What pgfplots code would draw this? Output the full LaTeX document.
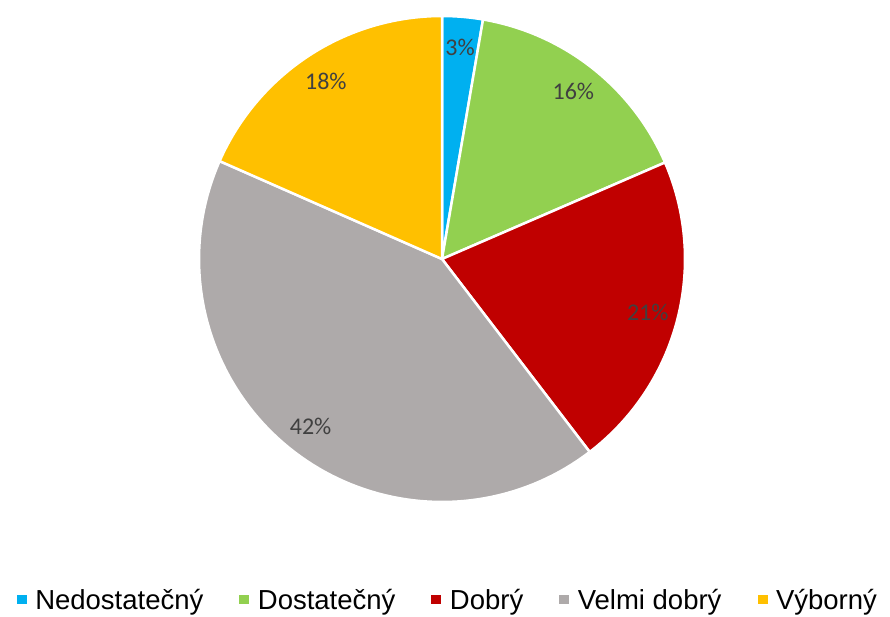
\documentclass[border=0pt]{standalone}
\usepackage{fontspec}
\setmainfont{Carlito}
\newfontfamily\legfont{Liberation Sans}
\usepackage{pgfplots}
\usepackage{pgfplotstable}
\pgfplotsset{compat=1.18}

\definecolor{cNed}{HTML}{00B0F0}
\definecolor{cDos}{HTML}{92D050}
\definecolor{cDob}{HTML}{C00000}
\definecolor{cVel}{HTML}{AEAAAA}
\definecolor{cVyb}{HTML}{FFC000}
\definecolor{lblgray}{HTML}{404040}
\tikzset{lbl/.style={font=\fontsize{24}{26}\selectfont, text=lblgray}}

% share of each grade in percent, clockwise from 12 o'clock
\pgfplotstableread[col sep=comma]{
grade,share,col
Nedostatečný,2.7,cNed
Dostatečný,15.8,cDos
Dobrý,21.1,cDob
Velmi dobrý,42.0,cVel
Výborný,18.4,cVyb
}\piedata

\begin{document}
\begin{tikzpicture}
\begin{axis}[
    hide axis,
    scale only axis,
    width=486pt, height=486pt,
    xmin=-1, xmax=1, ymin=-1, ymax=1,
    clip=false,
    legend columns=5,
    legend style={at={(0.512,-0.2016)}, anchor=center, draw=none, inner sep=0pt,
        font=\legfont\fontsize{27.5}{30}\selectfont,
        nodes={inner sep=2pt},
        /tikz/every odd column/.append style={column sep=6.5pt},
        /tikz/every even column/.append style={column sep=34pt}},
    legend image code/.code={\fill[#1,draw=none] (0pt,-4.5pt) rectangle (10pt,5pt);},
]
\def\cum{0}
\pgfplotsforeachungrouped \i in {0,...,4}{
  \pgfplotstablegetelem{\i}{share}\of\piedata \let\share\pgfplotsretval
  \pgfplotstablegetelem{\i}{col}\of\piedata \let\col\pgfplotsretval
  \pgfplotstablegetelem{\i}{grade}\of\piedata \let\grade\pgfplotsretval
  \pgfmathsetmacro\aS{90-3.6*\cum}
  \pgfmathsetmacro\cum{\cum+\share}
  \pgfmathsetmacro\aE{90-3.6*\cum}
  \pgfmathsetmacro\aM{(\aS+\aE)/2}
  \pgfmathtruncatemacro\pct{round(\share)}
  \edef\slice{%
    \noexpand\addplot[fill=\col, draw=white, line width=2.5pt, line join=round,
      domain=\aE:\aS, samples=90, variable=\noexpand\t]
      ({cos(\noexpand\t)},{sin(\noexpand\t)}) -- (axis cs:0,0) -- cycle;
    \noexpand\addlegendentry{\grade}
    \noexpand\node[lbl] at (axis cs:{0.875*cos(\aM)},{0.875*sin(\aM)}) {\pct\noexpand\%};
  }
  \slice
}
\end{axis}
\pgfresetboundingbox
\path (-199pt,-114pt) rectangle (691pt,502pt);
\end{tikzpicture}
\end{document}
